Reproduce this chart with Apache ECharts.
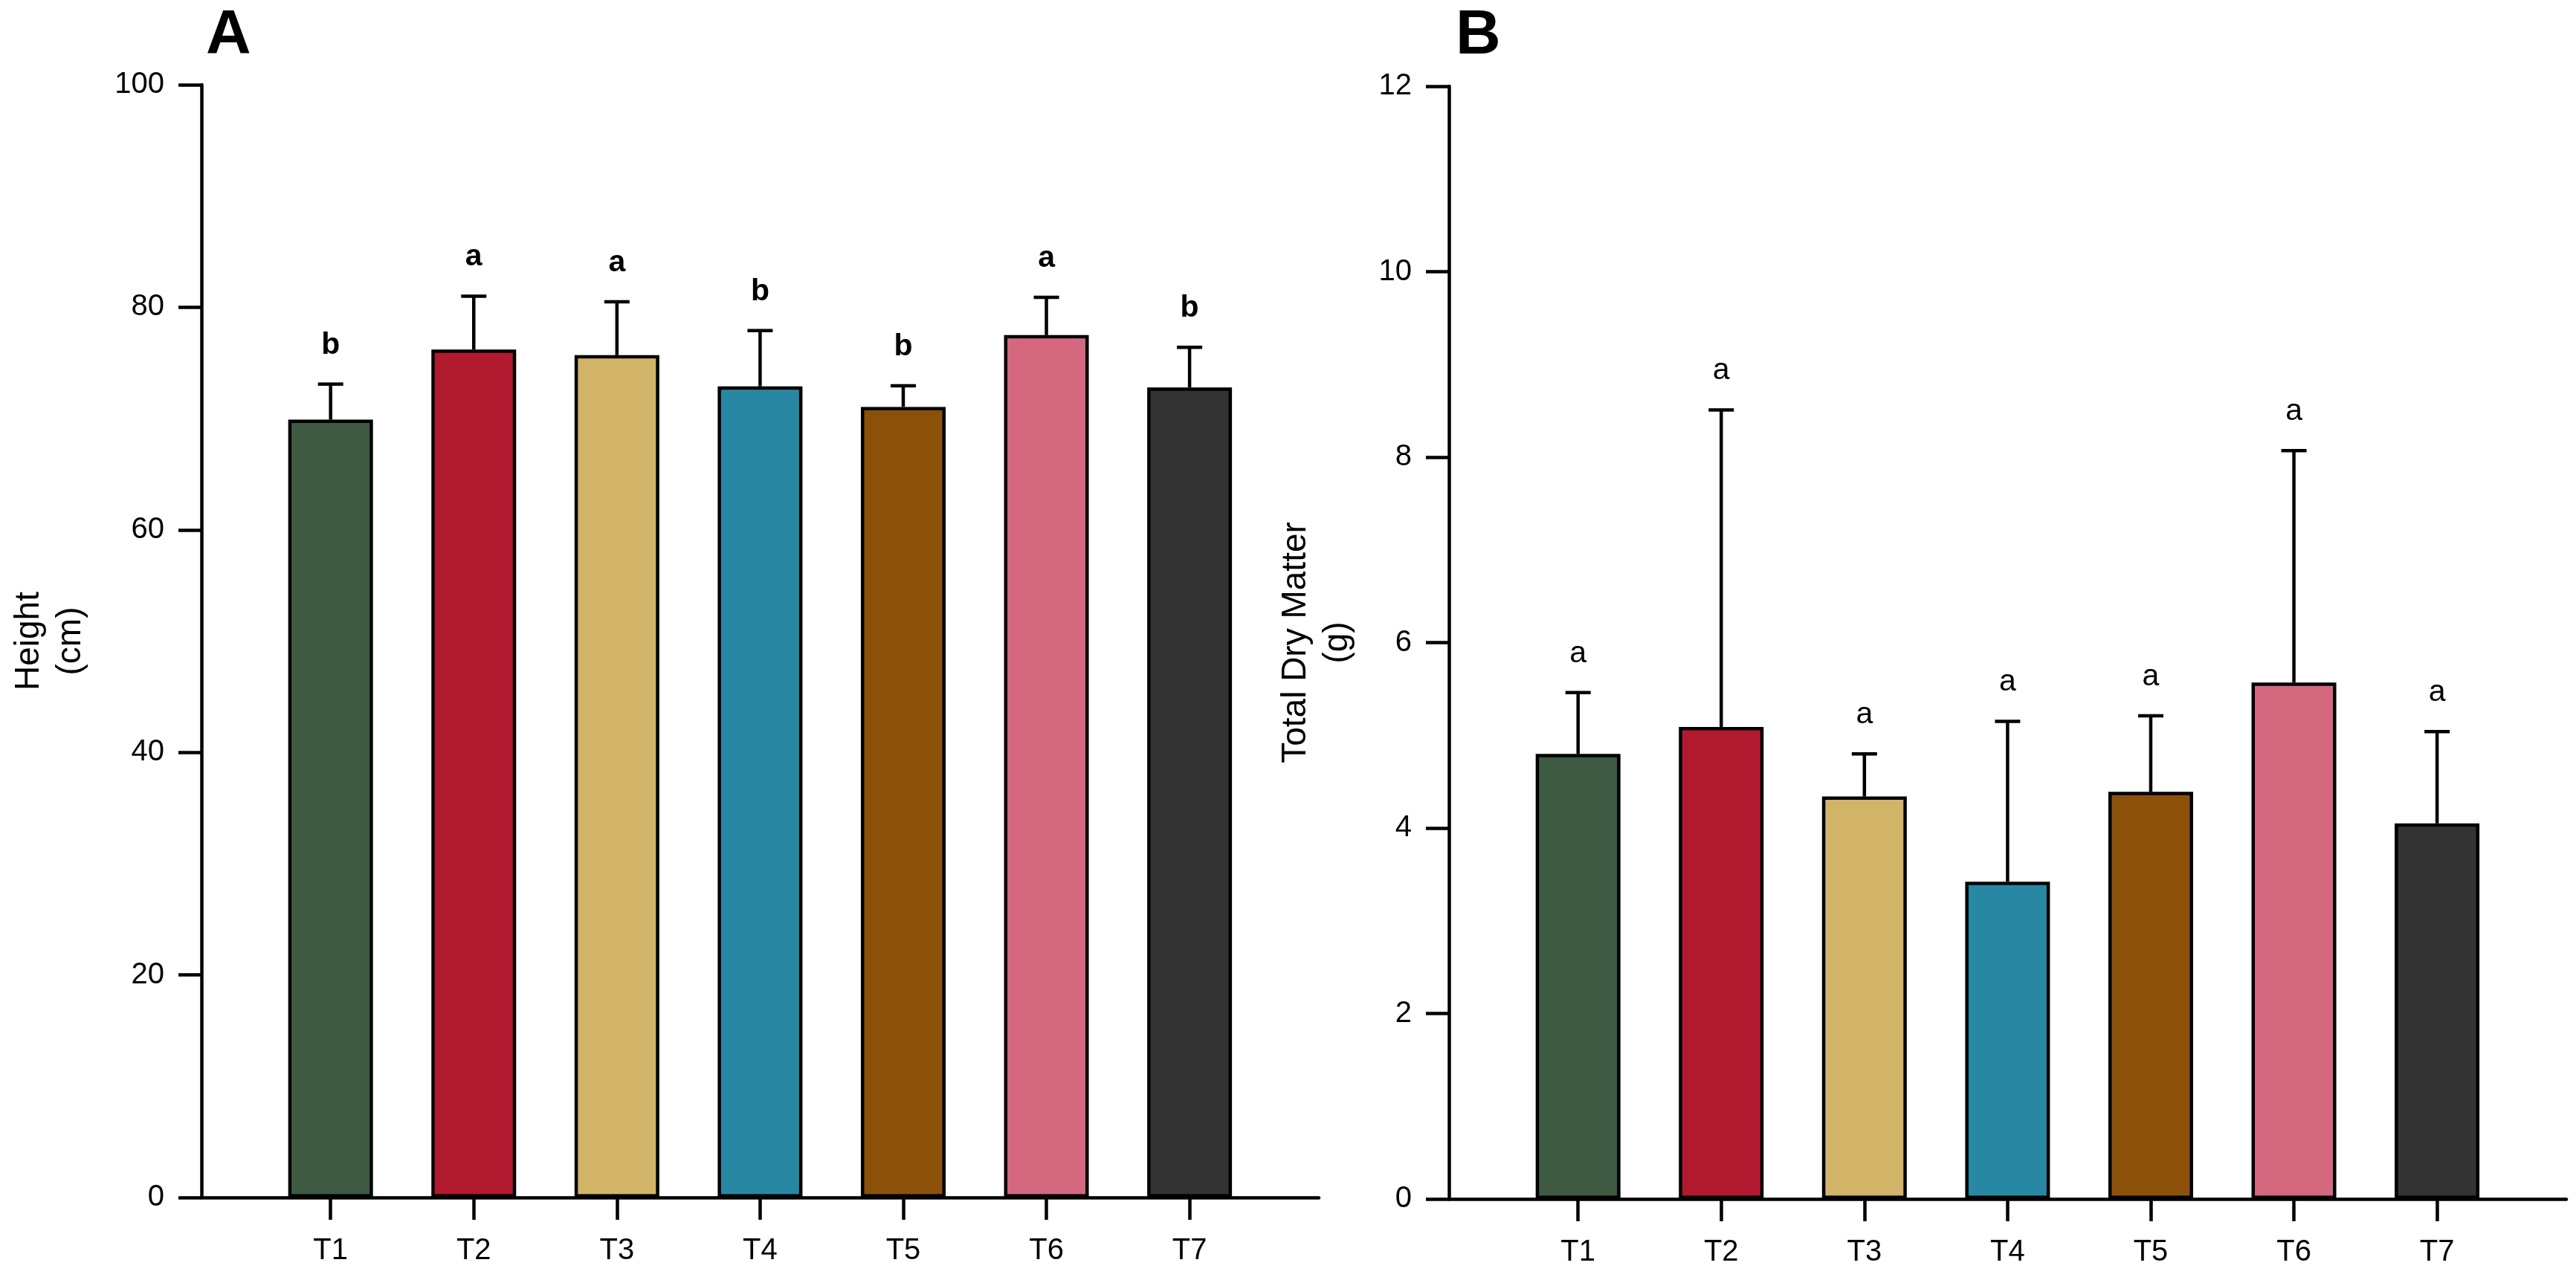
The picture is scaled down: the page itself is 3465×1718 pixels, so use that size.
<!DOCTYPE html>
<html>
<head>
<meta charset="utf-8">
<title>Height and total dry matter</title>
<script src="https://cdn.jsdelivr.net/npm/echarts@6/dist/echarts.min.js"></script>
<style>
  html, body { margin: 0; padding: 0; background: #fff; }
  #main { width: 3465px; height: 1718px; }
</style>
</head>
<body>
<div id="main"></div>
<script>
// data
var categories = ['T1', 'T2', 'T3', 'T4', 'T5', 'T6', 'T7'];

var heightMean = [69.9, 76.2, 75.7, 72.9, 71.05, 77.5, 72.8];
var heightSd = [3.2, 4.8, 4.8, 5.0, 1.9, 3.4, 3.6];
var heightLetters = ['b', 'a', 'a', 'b', 'b', 'a', 'b'];

var dryMean = [4.80, 5.09, 4.34, 3.42, 4.39, 5.57, 4.05];
var drySd = [0.66, 3.42, 0.46, 1.73, 0.82, 2.50, 0.99];
var dryLetters = ['a', 'a', 'a', 'a', 'a', 'a', 'a'];

var barColors = ['#3e5a42', '#b1192e', '#d2b469', '#2888a3', '#8b510b', '#d4687f', '#333333'];

var font = 'Liberation Sans, Arial, sans-serif';
var lw = 4.5;

var chartDom = document.getElementById('main');
var myChart = echarts.init(chartDom);

// upper error bar with cap, plus the significance letter above it
function errorRenderer(letters, bold) {
  return function (params, api) {
    var i = api.value(0);
    var mean = api.value(1);
    var sd = api.value(2);
    var base = api.coord([i, mean]);
    var top = api.coord([i, mean + sd]);
    var capHalf = 17;
    return {
      type: 'group',
      children: [
        { type: 'line', shape: { x1: base[0], y1: base[1], x2: top[0], y2: top[1] },
          style: { stroke: '#000', lineWidth: lw } },
        { type: 'line', shape: { x1: top[0] - capHalf, y1: top[1], x2: top[0] + capHalf, y2: top[1] },
          style: { stroke: '#000', lineWidth: lw } },
        { type: 'text',
          style: { text: letters[params.dataIndex], x: top[0], y: top[1] - 32,
            align: 'center', verticalAlign: 'bottom', fill: '#000',
            fontSize: 41, fontWeight: bold ? 'bold' : 'normal', fontFamily: font } }
      ]
    };
  };
}

function catAxis(grid) {
  return {
    gridIndex: grid, type: 'category', data: categories,
    axisLine: { show: false },
    axisTick: { show: true, alignWithLabel: true, length: 30, lineStyle: { color: '#000', width: lw } },
    axisLabel: { margin: 52, fontSize: 40, color: '#000', fontFamily: font },
    splitLine: { show: false }
  };
}

// plain baseline spanning the full panel width
function lineAxis(grid) {
  return {
    gridIndex: grid, type: 'value', min: 0, max: 1,
    axisLine: { show: true, lineStyle: { color: '#000', width: lw } },
    axisTick: { show: false }, axisLabel: { show: false }, splitLine: { show: false }
  };
}

function valAxis(grid, max, interval, name, gap) {
  return {
    gridIndex: grid, type: 'value', min: 0, max: max, interval: interval, offset: 77.4,
    axisLine: { show: true, lineStyle: { color: '#000', width: lw } },
    axisTick: { show: true, length: 31, lineStyle: { color: '#000', width: lw } },
    axisLabel: { margin: 50, fontSize: 40, color: '#000', fontFamily: font },
    splitLine: { show: false },
    name: name, nameLocation: 'middle', nameRotate: 90, nameGap: gap,
    nameTextStyle: { fontSize: 46, lineHeight: 56, color: '#000', fontFamily: font, align: 'center' }
  };
}

function hiddenAxis(grid) {
  return { gridIndex: grid, type: 'value', min: 0, max: 1, show: false };
}

var option = {
  backgroundColor: '#fff',
  animation: false,
  title: [
    { text: 'A', left: 272, top: 2, textStyle: { fontSize: 84, fontWeight: 'bold', color: '#000', fontFamily: font } },
    { text: 'B', left: 1953, top: 2, textStyle: { fontSize: 84, fontWeight: 'bold', color: '#000', fontFamily: font } }
  ],
  grid: [
    { left: 348.4, top: 114, width: 1348, height: 1497 },
    { left: 271, top: 114, width: 1503, height: 1497 },
    { left: 2026.4, top: 116, width: 1348, height: 1497 },
    { left: 1949, top: 116, width: 1503, height: 1497 }
  ],
  xAxis: [catAxis(0), lineAxis(1), catAxis(2), lineAxis(3)],
  yAxis: [
    valAxis(0, 100, 20, 'Height\n(cm)', 148),
    hiddenAxis(1),
    valAxis(2, 12, 2, 'Total Dry Matter\n(g)', 122),
    hiddenAxis(3)
  ],
  series: [
    {
      type: 'bar', xAxisIndex: 0, yAxisIndex: 0, barWidth: 114,
      data: heightMean,
      itemStyle: { color: function (p) { return barColors[p.dataIndex]; }, borderColor: '#000', borderWidth: lw }
    },
    {
      type: 'custom', xAxisIndex: 0, yAxisIndex: 0, z: 5,
      data: heightMean.map(function (v, i) { return [i, v, heightSd[i]]; }),
      renderItem: errorRenderer(heightLetters, true)
    },
    {
      type: 'bar', xAxisIndex: 2, yAxisIndex: 2, barWidth: 114,
      data: dryMean,
      itemStyle: { color: function (p) { return barColors[p.dataIndex]; }, borderColor: '#000', borderWidth: lw }
    },
    {
      type: 'custom', xAxisIndex: 2, yAxisIndex: 2, z: 5,
      data: dryMean.map(function (v, i) { return [i, v, drySd[i]]; }),
      renderItem: errorRenderer(dryLetters, false)
    }
  ]
};

option && myChart.setOption(option);
</script>
</body>
</html>
